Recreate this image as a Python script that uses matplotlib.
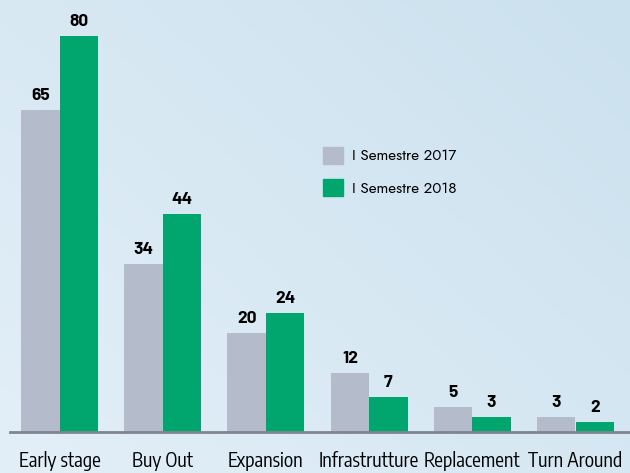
import matplotlib
matplotlib.use("Agg")
import matplotlib.pyplot as plt
import numpy as np
from matplotlib.patches import Patch

categories = ["Early stage", "Buy Out", "Expansion", "Infrastrutture", "Replacement", "Turn Around"]
s2017 = [65, 34, 20, 12, 5, 3]
s2018 = [80, 44, 24, 7, 3, 2]
series_names = ["I Semestre 2017", "I Semestre 2018"]

c_gray = "#b4bccc"
c_green = "#00a66e"
CAT_FONT = ["Encode Sans Condensed", "DejaVu Sans"]
NUM_FONT = ["Barlow", "DejaVu Sans"]
LEG_FONT = ["Jost", "DejaVu Sans"]

W, H = 630, 473
fig = plt.figure(figsize=(W / 100, H / 100), dpi=100)

# background gradient
bg = fig.add_axes([0, 0, 1, 1], zorder=0)
xx, yy = np.meshgrid(np.linspace(0, 1, 200), np.linspace(0, 1, 200))
t = np.clip(0.55 * xx + 0.45 * yy, 0, 1)
c0 = np.array([0xe3, 0xef, 0xf8]) / 255
c1 = np.array([0xcb, 0xe1, 0xee]) / 255
img = c0[None, None, :] * (1 - t[..., None]) + c1[None, None, :] * t[..., None]
bg.imshow(img, origin="lower", extent=[0, 1, 0, 1], aspect="auto")
bg.axis("off")

base_px = 432
unit_px = 4.95
group_px = 103.2
center0 = 59.5
ax = fig.add_axes([0, (H - base_px) / H, 1, base_px / H], zorder=1)
ax.patch.set_alpha(0)
x = np.arange(len(categories))
bw = 38.5 / group_px
ax.bar(x - bw / 2, s2017, width=bw, color=c_gray, label=series_names[0])
ax.bar(x + bw / 2, s2018, width=bw, color=c_green, label=series_names[1])
ax.set_xlim(-center0 / group_px, (W - center0) / group_px)
ax.set_ylim(0, base_px / unit_px)
for xs, vals in ((x - bw / 2, s2017), (x + bw / 2, s2018)):
    for xi, v in zip(xs, vals):
        ax.annotate(str(v), (xi, v), xytext=(0, 5), textcoords="offset points", ha="center", va="bottom",
                    fontsize=12.5, fontweight="bold", family=NUM_FONT)
for s in ax.spines.values():
    s.set_visible(False)
ax.set_yticks([])
ax.set_xticks(x)
ax.set_xticklabels(categories, fontsize=14, family=CAT_FONT)
ax.tick_params(axis="x", length=0, pad=14)
ax.axhline(0, xmin=10 / W, xmax=1, color="#80858f", lw=2, clip_on=False)

leg = fig.legend(handles=[Patch(color=c_gray), Patch(color=c_green)], labels=series_names,
                 loc="upper left", bbox_to_anchor=(309 / W, 1 - 133 / H), frameon=False,
                 handlelength=1.35, handleheight=1.35, handletextpad=0.55, labelspacing=1.0,
                 prop={"family": LEG_FONT, "size": 11})

fig.savefig("out.png", dpi=100)
